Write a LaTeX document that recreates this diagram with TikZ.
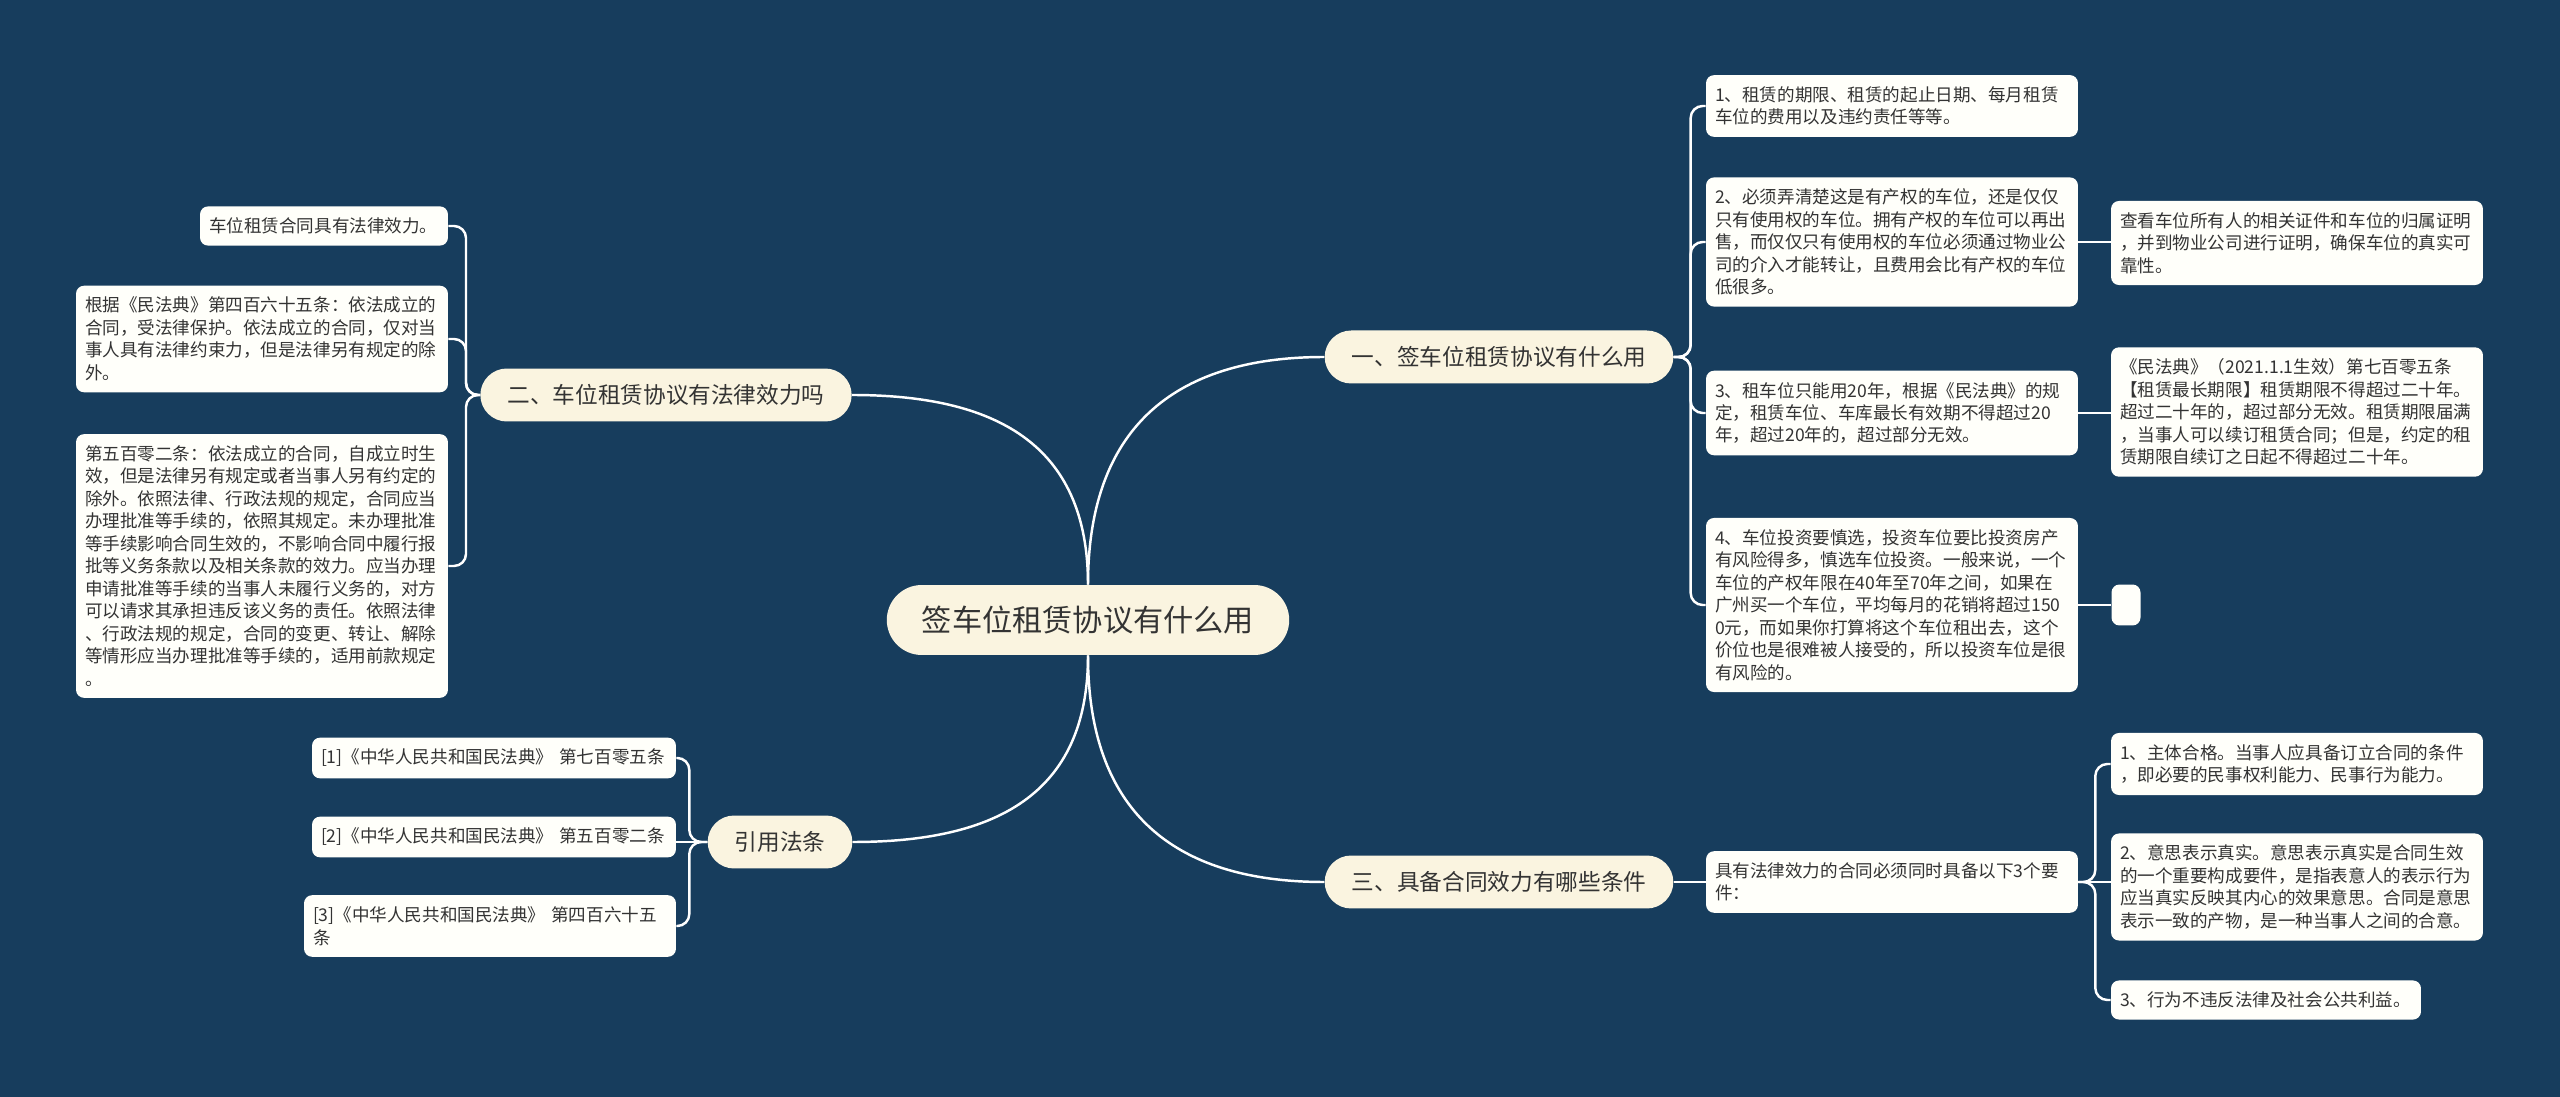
\documentclass[tikz,border=0pt]{standalone}
\usepackage{fontspec}
\setmainfont{Noto Sans CJK SC}
\usepackage{xcolor}
\usetikzlibrary{positioning}

\definecolor{bgnavy}{HTML}{173D5D}
\definecolor{cream}{HTML}{FAF4E0}
\definecolor{paper}{HTML}{FFFFFA}
\definecolor{ink}{HTML}{333333}

\begin{document}
\begin{tikzpicture}[x=0.02cm, y=0.02cm,
    curve/.style={draw=white, line width=1.4pt},
    elbow/.style={curve, rounded corners=0.24cm},
    topic/.style={fill=cream, text=ink, rounded corners=0.7cm, minimum height=1.4cm,
        inner xsep=0.7cm, font=\fontsize{17.2pt}{20pt}\selectfont},
    branch/.style={fill=cream, text=ink, rounded corners=0.53cm, minimum height=1.06cm,
        inner xsep=0.54cm, font=\fontsize{12.9pt}{15pt}\selectfont},
    leaf/.style={fill=paper, text=ink, rounded corners=0.16cm, align=left, text width=#1,
        inner xsep=0.18cm, inner ysep=6.5pt, font=\fontsize{10pt}{12.8pt}\selectfont},
    leaf/.default=7.08cm]

    % =================================================================
    % 1. 背景
    % =================================================================
    \fill[bgnavy] (0,0) rectangle (2560,-1097);

    % =================================================================
    % 2. 中心主题与四个分支
    % =================================================================
    \node[topic] (root) at (1088,-620) {签车位租赁协议有什么用};

    \node[branch] (b1) at (1499,-357) {一、签车位租赁协议有什么用};
    \node[branch] (b2) at (666,-395) {二、车位租赁协议有法律效力吗};
    \node[branch] (b3) at (1499,-882) {三、具备合同效力有哪些条件};
    \node[branch] (b4) at (780,-842) {引用法条};

    \draw[curve] (root.north) to[out=90, in=180, looseness=1.2] (b1.west);
    \draw[curve] (root.north) to[out=90, in=0, looseness=1.2] (b2.east);
    \draw[curve] (root.south) to[out=-90, in=180, looseness=1.2] (b3.west);
    \draw[curve] (root.south) to[out=-90, in=0, looseness=1.2] (b4.east);

    % =================================================================
    % 3. 分支一：签车位租赁协议有什么用
    % =================================================================
    \node[leaf] (a1) at (1892,-106) {1、租赁的期限、租赁的起止日期、每月租赁\\车位的费用以及违约责任等等。};
    \node[leaf] (a2) at (1892,-242) {2、必须弄清楚这是有产权的车位，还是仅仅\\只有使用权的车位。拥有产权的车位可以再出\\售，而仅仅只有使用权的车位必须通过物业公\\司的介入才能转让，且费用会比有产权的车位\\低很多。};
    \node[leaf] (a3) at (1892,-413) {3、租车位只能用20年，根据《民法典》的规\\定，租赁车位、车库最长有效期不得超过20\\年，超过20年的，超过部分无效。};
    \node[leaf] (a4) at (1892,-605) {4、车位投资要慎选，投资车位要比投资房产\\有风险得多，慎选车位投资。一般来说，一个\\车位的产权年限在40年至70年之间，如果在\\广州买一个车位，平均每月的花销将超过150\\0元，而如果你打算将这个车位租出去，这个\\价位也是很难被人接受的，所以投资车位是很\\有风险的。};

    \node[leaf] (c2) at (2297,-243) {查看车位所有人的相关证件和车位的归属证明\\，并到物业公司进行证明，确保车位的真实可\\靠性。};
    \node[leaf] (c3) at (2297,-412) {《民法典》（2021.1.1生效）第七百零五条\\【租赁最长期限】租赁期限不得超过二十年。\\超过二十年的，超过部分无效。租赁期限届满\\，当事人可以续订租赁合同；但是，约定的租\\赁期限自续订之日起不得超过二十年。};
    \node[leaf=0.22cm, minimum height=0.82cm] (c4) at (2126,-605) {};

    \foreach \n in {a1,a2,a3,a4}
        \draw[elbow] (b1.east) -- ++(17,0) |- (\n.west);
    \draw[curve] (a2.east) -- (a2.east -| c2.west);
    \draw[curve] (a3.east) -- (a3.east -| c3.west);
    \draw[curve] (a4.east) -- (c4.west);

    % =================================================================
    % 4. 分支二：车位租赁协议有法律效力吗
    % =================================================================
    \node[leaf=4.6cm] (e1) at (324,-226) {车位租赁合同具有法律效力。};
    \node[leaf] (e2) at (262,-339) {根据《民法典》第四百六十五条：依法成立的\\合同，受法律保护。依法成立的合同，仅对当\\事人具有法律约束力，但是法律另有规定的除\\外。};
    \node[leaf] (e3) at (262,-566) {第五百零二条：依法成立的合同，自成立时生\\效，但是法律另有规定或者当事人另有约定的\\除外。依照法律、行政法规的规定，合同应当\\办理批准等手续的，依照其规定。未办理批准\\等手续影响合同生效的，不影响合同中履行报\\批等义务条款以及相关条款的效力。应当办理\\申请批准等手续的当事人未履行义务的，对方\\可以请求其承担违反该义务的责任。依照法律\\、行政法规的规定，合同的变更、转让、解除\\等情形应当办理批准等手续的，适用前款规定\\。};

    \foreach \n in {e1,e2,e3}
        \draw[elbow] (b2.west) -- ++(-14,0) |- (\n.east);

    % =================================================================
    % 5. 分支三：具备合同效力有哪些条件
    % =================================================================
    \node[leaf] (d0) at (1892,-882) {具有法律效力的合同必须同时具备以下3个要\\件：};
    \node[leaf] (d1) at (2297,-764) {1、主体合格。当事人应具备订立合同的条件\\，即必要的民事权利能力、民事行为能力。};
    \node[leaf] (d2) at (2297,-887) {2、意思表示真实。意思表示真实是合同生效\\的一个重要构成要件，是指表意人的表示行为\\应当真实反映其内心的效果意思。合同是意思\\表示一致的产物，是一种当事人之间的合意。};
    \node[leaf=5.84cm] (d3) at (2266,-1000) {3、行为不违反法律及社会公共利益。};

    \draw[curve] (b3.east) -- (d0.west);
    \draw[elbow] (d0.east) -- ++(17,0) |- (d1.west);
    \draw[curve] (d0.east) -- (d0.east -| d2.west);
    \draw[elbow] (d0.east) -- ++(17,0) |- (d3.west);

    % =================================================================
    % 6. 引用法条
    % =================================================================
    \node[leaf=6.92cm] (r1) at (494,-758) {[1]《中华人民共和国民法典》~第七百零五条};
    \node[leaf=6.92cm] (r2) at (494,-837) {[2]《中华人民共和国民法典》~第五百零二条};
    \node[leaf] (r3) at (490,-926) {[3]《中华人民共和国民法典》~第四百六十五\\条};

    \draw[elbow] (b4.west) -- ++(-18,0) |- (r1.east);
    \draw[curve] (b4.west) -- (b4.west -| r2.east);
    \draw[elbow] (b4.west) -- ++(-18,0) |- (r3.east);

\end{tikzpicture}
\end{document}
